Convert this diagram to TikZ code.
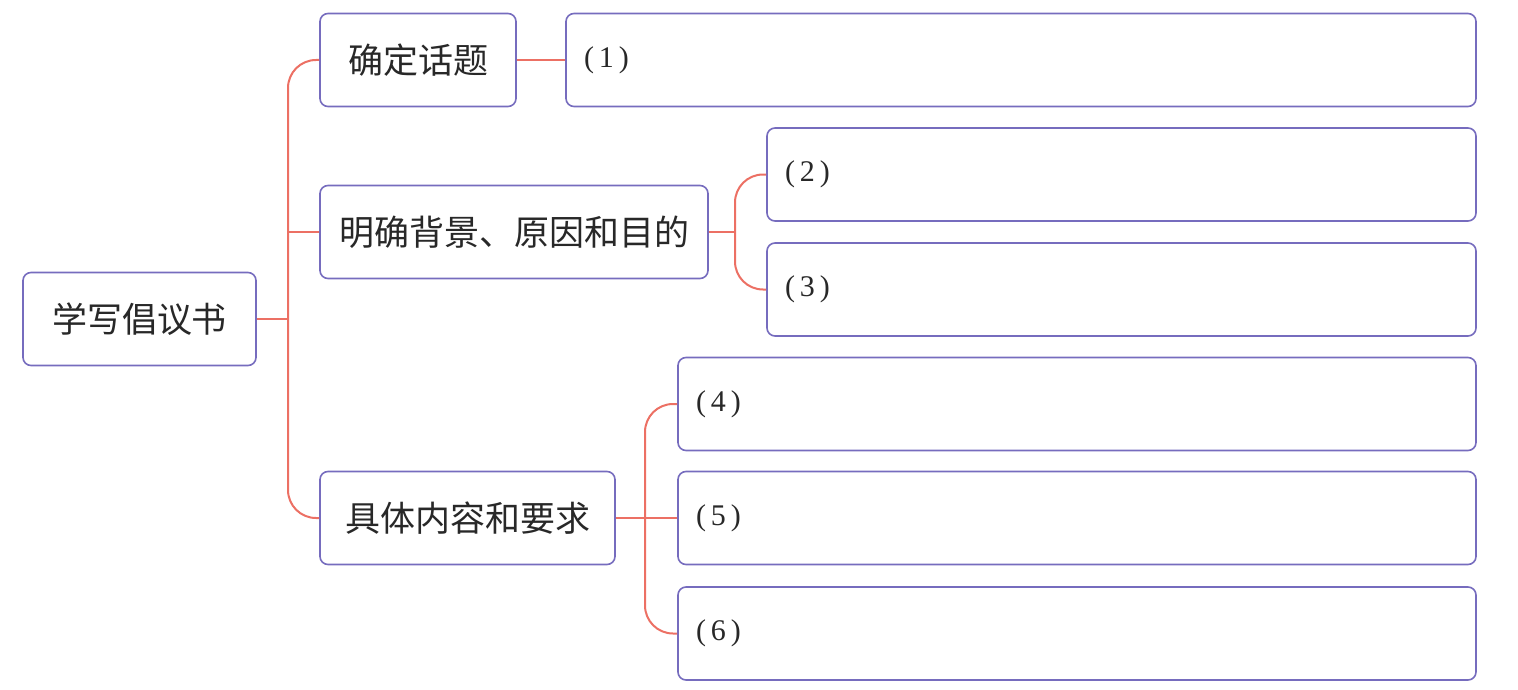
\documentclass[tikz,border=0pt]{standalone}
\usepackage{fontspec}
\usepackage{xcolor}
\usepackage{tikz}
\setmainfont{Liberation Serif}
\newfontfamily\cjk{Noto Sans CJK SC}
\definecolor{boxline}{RGB}{118,108,190}
\definecolor{branch}{RGB}{236,112,100}
\definecolor{ink}{RGB}{40,40,40}
\tikzset{
  headbox/.style={draw=boxline, line width=1.6pt, rounded corners=8pt, fill=white, text=ink,
    font=\cjk\fontsize{35}{40}\selectfont, minimum height=93pt, inner sep=0pt},
  answer/.style={draw=boxline, line width=1.6pt, rounded corners=8pt, fill=white, text=ink,
    text width=#1, align=left, inner xsep=18pt, inner ysep=0pt, minimum height=93pt,
    font=\fontsize{30}{33}\selectfont},
  link/.style={draw=branch, line width=2pt, rounded corners=28pt},
}
\newcommand\blank[1]{(\kern5pt#1\kern5pt)}

\begin{document}
\begin{tikzpicture}[x=1pt,y=-1pt]
                        \useasboundingbox (0,0) rectangle (1518,690);
                        \node[headbox, minimum width=233pt] (root) at (139.5,319) {学写倡议书};
                        \node[headbox, minimum width=196pt] (topic) at (418,60) {确定话题};
                        \node[headbox, minimum width=388pt] (reason) at (514,232) {明确背景、原因和目的};
                        \node[headbox, minimum width=295pt] (detail) at (467.5,518) {具体内容和要求};
                        \node[answer=874pt] (a1) at (1021,60) {\blank{1}};
                        \node[answer=673pt] (a2) at (1121.5,174.5) {\blank{2}};
                        \node[answer=673pt] (a3) at (1121.5,289.5) {\blank{3}};
                        \node[answer=762pt] (a4) at (1077,404) {\blank{4}};
                        \node[answer=762pt] (a5) at (1077,518) {\blank{5}};
                        \node[answer=762pt] (a6) at (1077,633.5) {\blank{6}};
                        \coordinate (trunk) at (288,319);
                        \coordinate (fork1) at (735,232);
                        \coordinate (fork2) at (645,518);
                        \draw[link] (root.east) -- (trunk);
                        \draw[link] (topic.west) -| (trunk) |- (detail.west);
                        \draw[link] (reason.west) -- (reason.west -| trunk);
                        \draw[link] (topic.east) -- (a1.west);
                        \draw[link] (reason.east) -- (fork1);
                        \draw[link] (a2.west) -| (fork1) |- (a3.west);
                        \draw[link] (detail.east) -- (a5.west);
                        \draw[link] (a4.west) -| (fork2) |- (a6.west);
                    \end{tikzpicture}
\end{document}
